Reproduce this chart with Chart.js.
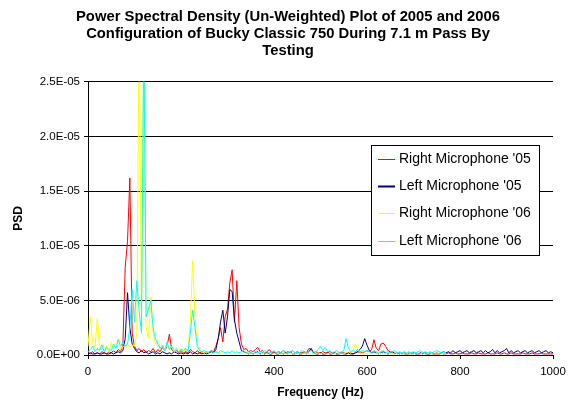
<!DOCTYPE html>
<html><head><meta charset="utf-8">
<script src="https://cdn.jsdelivr.net/npm/chart.js@4.4.1/dist/chart.umd.min.js"></script>
<style>html,body{margin:0;padding:0;background:#fff}#wrap{width:576px;height:410px;position:relative}</style>
</head><body><div id="wrap"><canvas id="c" width="576" height="410"></canvas></div>
<script>
const titleLines = [
  'Power Spectral Density (Un-Weighted) Plot of 2005 and 2006',
  'Configuration of Bucky Classic 750 During 7.1 m Pass By',
  'Testing'
];
const xAxisTitle = 'Frequency (Hz)';
const yAxisTitle = 'PSD';
const seriesNames = ["Right Microphone '05", "Left Microphone '05", "Right Microphone '06", "Left Microphone '06"];
const seriesColors = ['#ff0000', '#000080', '#ffff00', '#00ffff'];
const yTickLabels = ['0.0E+00', '5.0E-06', '1.0E-05', '1.5E-05', '2.0E-05', '2.5E-05'];

// Frequency (Hz)
const frequencies = [
  0,5,10,15,20,25,30,35,40,45,
  50,55,60,65,70,75,80,85,90,95,
  100,105,110,115,120,125,130,135,140,145,
  150,155,160,165,170,175,180,185,190,195,
  200,205,210,215,220,225,230,235,240,245,
  250,255,260,265,270,275,280,285,290,295,
  300,305,310,315,320,325,330,335,340,345,
  350,355,360,365,370,375,380,385,390,395,
  400,405,410,415,420,425,430,435,440,445,
  450,455,460,465,470,475,480,485,490,495,
  500,505,510,515,520,525,530,535,540,545,
  550,555,560,565,570,575,580,585,590,595,
  600,605,610,615,620,625,630,635,640,645,
  650,655,660,665,670,675,680,685,690,695,
  700,705,710,715,720,725,730,735,740,745,
  750,755,760,765,770,775,780,785,790,795,
  800,805,810,815,820,825,830,835,840,845,
  850,855,860,865,870,875,880,885,890,895,
  900,905,910,915,920,925,930,935,940,945,
  950,955,960,965,970,975,980,985,990,995,
  1000
];

// PSD values, in units of 1E-06
const rightMic05 = [
  0.2,0.1,0.3,0.1,0.2,0.1,0.3,0.2,0.1,0.3,
  0.2,0.4,0.2,0.5,0.3,0.9,8.0,10.4,16.2,2.0,
  0.8,0.4,0.6,0.3,0.5,0.2,0.4,0.3,0.6,0.2,
  0.5,0.3,0.7,0.4,0.8,1.9,0.5,0.3,0.4,0.2,
  0.4,0.2,0.3,0.2,0.5,0.3,0.2,0.4,0.2,0.3,
  0.2,0.3,0.2,0.4,0.3,0.8,1.5,2.5,1.2,3.5,
  4.2,6.6,7.8,3.0,6.8,2.5,1.0,0.5,0.6,0.3,
  0.4,0.3,0.5,0.7,0.3,0.4,0.2,0.3,0.5,0.2,
  0.3,0.2,0.3,0.2,0.4,0.2,0.3,0.2,0.4,0.2,
  0.3,0.2,0.2,0.3,0.2,0.6,0.5,0.2,0.3,0.2,
  0.2,0.3,0.2,0.2,0.3,0.2,0.2,0.1,0.2,0.2,
  0.2,0.1,0.2,0.2,0.1,0.2,0.3,0.2,0.2,0.3,
  0.4,0.3,0.5,1.4,0.6,0.4,1.0,1.1,0.8,0.4,
  0.3,0.2,0.2,0.1,0.2,0.1,0.2,0.1,0.1,0.2,
  0.1,0.2,0.1,0.1,0.2,0.1,0.1,0.2,0.1,0.1,
  0.1,0.1,0.2,0.1,0.1,0.2,0.1,0.1,0.2,0.1,
  0.1,0.2,0.1,0.1,0.1,0.2,0.1,0.1,0.2,0.1,
  0.1,0.1,0.2,0.1,0.1,0.1,0.2,0.1,0.1,0.2,
  0.1,0.1,0.2,0.1,0.1,0.1,0.1,0.2,0.1,0.1,
  0.1,0.2,0.1,0.1,0.1,0.2,0.1,0.1,0.1,0.1,
  0.1
];
const leftMic05 = [
  0.1,0.2,0.1,0.1,0.2,0.1,0.1,0.2,0.1,0.1,
  0.2,0.1,0.2,0.3,0.2,0.4,1.5,5.7,2.5,1.0,
  0.6,0.3,0.2,0.4,0.2,0.3,0.1,0.2,0.3,0.1,
  0.2,0.1,0.3,0.2,0.1,0.2,0.1,0.3,0.2,0.1,
  0.2,0.1,0.2,0.1,0.3,0.1,0.2,0.1,0.2,0.1,
  0.2,0.1,0.2,0.3,0.2,0.5,1.5,3.0,4.1,2.0,
  3.5,6.0,5.8,3.2,2.0,1.2,0.4,0.3,0.2,0.1,
  0.2,0.1,0.2,0.3,0.1,0.2,0.1,0.2,0.1,0.1,
  0.2,0.1,0.1,0.2,0.1,0.2,0.1,0.3,0.1,0.1,
  0.2,0.1,0.1,0.2,0.1,0.3,0.6,0.2,0.1,0.1,
  0.2,0.1,0.1,0.2,0.1,0.1,0.2,0.1,0.1,0.2,
  0.1,0.1,0.2,0.1,0.1,0.2,0.3,0.5,0.8,1.5,
  0.9,0.4,0.2,0.3,0.2,0.1,0.2,0.3,0.2,0.1,
  0.2,0.3,0.1,0.2,0.1,0.2,0.1,0.1,0.2,0.1,
  0.2,0.1,0.1,0.2,0.1,0.2,0.1,0.1,0.2,0.1,
  0.2,0.1,0.2,0.3,0.2,0.3,0.2,0.4,0.2,0.3,
  0.4,0.2,0.3,0.4,0.2,0.3,0.4,0.2,0.3,0.4,
  0.2,0.4,0.2,0.3,0.5,0.2,0.4,0.2,0.3,0.4,
  0.6,0.2,0.4,0.2,0.3,0.4,0.2,0.3,0.4,0.2,
  0.3,0.4,0.2,0.3,0.4,0.2,0.3,0.4,0.2,0.3,
  0.2
];
const rightMic06 = [
  0.8,3.5,1.2,0.6,3.4,0.5,1.0,0.4,0.8,0.3,
  1.2,0.4,0.6,1.5,0.5,0.8,0.6,1.0,0.7,0.9,
  0.8,2.0,30,3.0,30,2.5,1.5,5.3,2.0,1.0,
  1.2,0.6,0.8,0.4,1.0,0.5,0.7,0.3,0.5,0.4,
  0.6,0.3,0.5,0.4,3.0,8.6,3.5,1.0,0.5,0.3,
  0.2,0.3,0.2,0.1,0.2,0.3,0.1,0.2,0.1,0.2,
  0.1,0.2,0.1,0.3,0.1,0.2,0.1,0.2,0.1,0.2,
  0.1,0.2,0.1,0.1,0.2,0.1,0.2,0.1,0.1,0.2,
  0.1,0.2,0.1,0.1,0.2,0.1,0.1,0.2,0.1,0.1,
  0.2,0.1,0.1,0.2,0.1,0.1,0.2,0.1,0.1,0.2,
  0.1,0.2,0.1,0.1,0.2,0.1,0.1,0.2,0.1,0.2,
  0.1,0.2,0.3,0.2,0.4,1.0,0.6,0.2,0.1,0.2,
  0.1,0.2,0.1,0.1,0.2,0.1,0.2,0.1,0.1,0.2,
  0.1,0.1,0.2,0.1,0.1,0.2,0.1,0.1,0.2,0.1,
  0.1,0.2,0.1,0.1,0.2,0.1,0.1,0.2,0.1,0.1,
  0.2,0.1,0.1,0.2,0.1
];
const leftMic06 = [
  0.3,0.5,0.8,0.3,0.6,0.4,0.9,0.3,0.7,0.5,
  0.4,1.0,0.6,1.4,0.8,1.2,0.8,1.0,2.5,6.0,
  3.0,6.8,4.0,2.0,30,3.5,4.2,5.0,2.5,1.5,
  1.0,0.6,0.9,0.4,1.2,0.5,0.8,0.4,0.6,0.3,
  0.5,0.4,0.6,0.3,2.0,4.1,2.5,0.8,0.4,0.3,
  0.4,0.2,0.3,0.4,0.2,0.3,0.2,0.4,0.3,0.2,
  0.3,0.2,0.4,0.2,0.3,0.2,0.3,0.4,0.2,0.3,
  0.2,0.4,0.3,0.2,0.3,0.2,0.4,0.3,0.2,0.3,
  0.4,0.2,0.3,0.2,0.4,0.3,0.2,0.3,0.4,0.2,
  0.3,0.2,0.4,0.3,0.2,0.3,0.4,0.2,0.3,0.5,
  0.8,0.4,0.7,0.3,0.4,0.2,0.3,0.4,0.2,0.3,
  0.4,1.5,0.6,0.3,0.4,0.3,0.5,0.3,0.4,0.3,
  0.4,0.3,0.2,0.4,0.3,0.2,0.3,0.4,0.2,0.3,
  0.2,0.3,0.4,0.2,0.3,0.2,0.3,0.2,0.3,0.2,
  0.3,0.2,0.3,0.4,0.2,0.3,0.2,0.3,0.2,0.3,
  0.4,0.3,0.2,0.3,0.2
];

const seriesValues = [rightMic05, leftMic05, rightMic06, leftMic06];
const FONT = '"Liberation Sans", Arial, sans-serif';

const boxLegend = {
  id: 'boxLegend',
  afterDraw(chart) {
    const ctx = chart.ctx;
    const a = chart.chartArea;
    const x0 = Math.round(a.right - 182), y0 = Math.round(a.top + 63), w = 168, h = 110;
    ctx.save();
    ctx.fillStyle = '#fff';
    ctx.fillRect(x0, y0, w, h);
    ctx.strokeStyle = '#000';
    ctx.lineWidth = 1;
    ctx.strokeRect(x0 + 0.5, y0 + 0.5, w, h);
    ctx.font = '14px ' + FONT;
    ctx.textBaseline = 'middle';
    ctx.textAlign = 'left';
    chart.data.datasets.forEach((ds, i) => {
      const y = Math.round(y0 + 14 + i * 27.2) + 0.5;
      ctx.strokeStyle = ds.borderColor;
      ctx.lineWidth = i === 1 ? 2 : 1;
      ctx.beginPath();
      ctx.moveTo(x0 + 7, y);
      ctx.lineTo(x0 + 24, y);
      ctx.stroke();
      ctx.fillStyle = '#000';
      ctx.fillText(ds.label, x0 + 28, y);
    });
    ctx.restore();
  }
};

new Chart(document.getElementById('c'), {
  type: 'line',
  data: {
    datasets: seriesNames.map((name, k) => ({
      label: name,
      data: seriesValues[k].map((v, i) => ({ x: frequencies[i], y: v })),
      borderColor: seriesColors[k],
      backgroundColor: seriesColors[k],
      borderWidth: 1,
      pointRadius: 0,
      tension: 0,
      fill: false,
      order: 4 - k
    }))
  },
  options: {
    responsive: false,
    devicePixelRatio: 1,
    animation: false,
    layout: { padding: { left: 0, right: 0, top: 0, bottom: 0 } },
    plugins: {
      legend: { display: false },
      tooltip: { enabled: false },
      title: {
        display: true,
        text: titleLines,
        color: '#000',
        font: { family: FONT, size: 14.8, weight: 'bold', lineHeight: 1.12 },
        padding: { top: 9, bottom: 23 }
      }
    },
    scales: {
      x: {
        type: 'linear',
        min: 0, max: 1000,
        ticks: { stepSize: 200, color: '#000', font: { family: FONT, size: 11.5 }, padding: 6, maxRotation: 0,
                 callback: (v) => String(v) },
        grid: { drawOnChartArea: false, drawTicks: true, tickLength: 4, color: '#000' },
        border: { color: '#000' },
        title: { display: true, text: xAxisTitle, color: '#000', font: { family: FONT, size: 12, weight: 'bold' }, padding: { top: 4, bottom: 10 } },
        afterFit(s) { s.height = 55; }
      },
      y: {
        min: 0, max: 25,
        ticks: { stepSize: 5, color: '#000', font: { family: FONT, size: 11.5 }, padding: 4,
                 callback: (v, i) => yTickLabels[i] },
        grid: { color: '#000', tickLength: 4 },
        border: { color: '#000' },
        title: { display: true, text: yAxisTitle, color: '#000', font: { family: FONT, size: 12, weight: 'bold' }, padding: { top: 11, bottom: 0 } },
        afterFit(s) { s.width = 88; }
      },
      yRight: {
        position: 'right',
        display: true,
        grid: { display: false, drawTicks: false },
        border: { display: false },
        ticks: { display: false },
        afterFit(s) { s.width = 23; }
      }
    }
  },
  plugins: [boxLegend]
});
</script>
</body></html>
